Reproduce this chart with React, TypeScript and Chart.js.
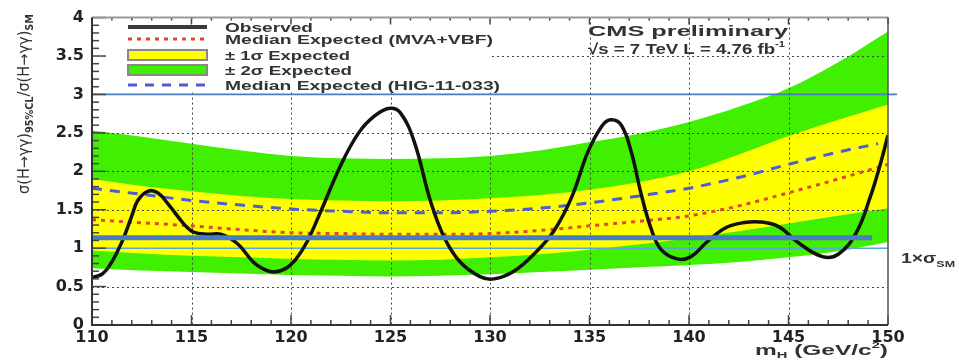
import React, { useEffect, useRef } from "react";
import { Chart, registerables } from "chart.js";

Chart.register(...registerables);

// ---------- data ----------
const massGrid = [110, 112.5, 115, 117.5, 120, 122.5, 125, 127.5, 130, 132.5, 135, 137.5, 140, 142.5, 145, 147.5, 150];
const twoSigmaUp = [2.53, 2.45, 2.36, 2.27, 2.2, 2.17, 2.16, 2.17, 2.2, 2.27, 2.38, 2.49, 2.64, 2.84, 3.08, 3.42, 3.82];
const twoSigmaDown = [0.74, 0.71, 0.69, 0.67, 0.65, 0.64, 0.63, 0.64, 0.66, 0.69, 0.72, 0.75, 0.78, 0.82, 0.88, 0.96, 1.08];
const oneSigmaUp = [1.9, 1.81, 1.74, 1.68, 1.64, 1.62, 1.61, 1.62, 1.65, 1.69, 1.76, 1.86, 2.0, 2.22, 2.46, 2.67, 2.87];
const oneSigmaDown = [0.97, 0.93, 0.9, 0.88, 0.86, 0.85, 0.84, 0.85, 0.88, 0.92, 0.98, 1.05, 1.13, 1.22, 1.32, 1.42, 1.52];
const medianMva = [1.37, 1.33, 1.29, 1.24, 1.2, 1.19, 1.18, 1.18, 1.19, 1.23, 1.29, 1.35, 1.42, 1.55, 1.72, 1.9, 2.09];

const medianHigMass = [110, 112.5, 115, 117.5, 120, 122.5, 125, 127.5, 130, 132.5, 135, 137.5, 140, 142.5, 145, 147.5, 149.5];
const medianHig = [1.78, 1.7, 1.62, 1.56, 1.51, 1.48, 1.46, 1.46, 1.48, 1.52, 1.59, 1.68, 1.78, 1.92, 2.09, 2.25, 2.36];

const obsMass = [110, 110.5, 110.9, 111.3, 111.6, 112.0, 112.3, 112.8, 113.3, 113.9, 114.6, 115.1, 115.8, 116.5, 117.3, 118.1, 118.6, 119.15, 119.7, 120.2, 120.8, 121.5, 122.5, 123.4, 124.2, 124.95, 125.5, 126.2, 127.0, 127.7, 128.5, 129.5, 130.2, 131.2, 132.2, 133.2, 134.1, 134.9, 135.6, 136.05, 136.6, 137.1, 137.6, 138.1, 138.6, 139.4, 140.1, 140.9, 141.8, 142.7, 143.6, 144.5, 145.5, 146.7, 147.5, 148.4, 149.1, 149.6, 150];
const obsValue = [0.62, 0.66, 0.78, 0.97, 1.14, 1.42, 1.62, 1.74, 1.72, 1.55, 1.32, 1.21, 1.18, 1.18, 1.06, 0.82, 0.73, 0.69, 0.73, 0.84, 1.08, 1.48, 2.08, 2.5, 2.72, 2.82, 2.76, 2.38, 1.62, 1.14, 0.82, 0.63, 0.6, 0.7, 0.92, 1.22, 1.66, 2.24, 2.58, 2.67, 2.6, 2.25, 1.7, 1.25, 0.98, 0.86, 0.89, 1.08, 1.26, 1.33, 1.34, 1.28, 1.07, 0.89, 0.92, 1.2, 1.66, 2.08, 2.47];

// reference lines drawn on the plot
const refLineTopMass = [110, 150.45];
const refLineTopValue = [3, 3];
const refLineThickMass = [110, 149.2];
const refLineThickValue = [1.135, 1.135];
const smLineMass = [110, 150];
const smLineValue = [1, 1];

const X_MIN = 110;
const X_MAX = 150;
const Y_MIN = 0;
const Y_MAX = 4;
const X_STEP = 5;
const Y_STEP = 0.5;

const legendLabels = [
  "Observed",
  "Median Expected (MVA+VBF)",
  "\u00b1 1\u03c3 Expected",
  "\u00b1 2\u03c3 Expected",
  "Median Expected (HIG-11-033)",
];

const COLORS = {
  green: "#40f000",
  yellow: "#ffff00",
  red: "#e3462a",
  blue: "#4d5fd0",
  black: "#111111",
  refBlue: "#4a7cc4",
  smBlue: "#5aa8d8",
};

const pts = (xs: number[], ys: number[]) => xs.map((x, i) => ({ x, y: ys[i] }));

type Run = { text: string; size: number; dy: number; bold?: boolean };

function drawRuns(ctx: CanvasRenderingContext2D, runs: Run[], x: number, y: number, width: number, family: string, color: string) {
  ctx.save();
  let total = 0;
  const widths = runs.map((r) => {
    ctx.font = `${r.bold ? "bold " : ""}${r.size}px ${family}`;
    const w = ctx.measureText(r.text).width;
    total += w;
    return w;
  });
  const s = width / total;
  ctx.translate(x, y);
  ctx.scale(s, 1);
  ctx.fillStyle = color;
  ctx.textBaseline = "alphabetic";
  ctx.textAlign = "left";
  let cx = 0;
  runs.forEach((r, i) => {
    ctx.font = `${r.bold ? "bold " : ""}${r.size}px ${family}`;
    ctx.fillText(r.text, cx, r.dy);
    cx += widths[i];
  });
  ctx.restore();
}

const YELLOW_INDEX = 6;

const decorPlugin = {
  id: "rootDecor",
  afterDatasetDraw(chart: any, args: any) {
    if (args.index !== YELLOW_INDEX) return;
    const { ctx, chartArea: a, scales } = chart;
    const xs = scales.x;
    const ys = scales.y;
    ctx.save();
    // dotted grid, drawn over the bands
    ctx.strokeStyle = "#444";
    ctx.lineWidth = 1;
    ctx.setLineDash([2, 3]);
    for (let m = X_MIN + X_STEP; m < X_MAX; m += X_STEP) {
      const px = Math.round(xs.getPixelForValue(m)) + 0.5;
      ctx.beginPath();
      ctx.moveTo(px, a.top);
      ctx.lineTo(px, a.bottom);
      ctx.stroke();
    }
    for (let v = Y_MIN + Y_STEP; v < Y_MAX; v += Y_STEP) {
      const py = Math.round(ys.getPixelForValue(v)) + 0.5;
      ctx.beginPath();
      ctx.moveTo(a.left, py);
      ctx.lineTo(a.right, py);
      ctx.stroke();
    }
    ctx.setLineDash([]);
    // legend box (white, covers grid)
    ctx.fillStyle = "#ffffff";
    ctx.fillRect(a.left + 1, a.top + 1, 490 - a.left, 72);
    ctx.restore();
  },
  afterDatasetsDraw(chart: any) {
    const { ctx, chartArea: a, scales } = chart;
    const xs = scales.x;
    const ys = scales.y;
    ctx.save();
    // inner ticks
    ctx.strokeStyle = "#444";
    ctx.lineWidth = 1.5;
    for (let m = X_MIN; m <= X_MAX; m += 1) {
      const px = xs.getPixelForValue(m);
      const major = (m - X_MIN) % X_STEP === 0;
      ctx.beginPath();
      ctx.moveTo(px, a.bottom);
      ctx.lineTo(px, a.bottom - (major ? 10 : 5));
      ctx.moveTo(px, a.top);
      ctx.lineTo(px, a.top + (major ? 7 : 3));
      ctx.stroke();
    }
    for (let k = 0; k <= 40; k++) {
      const v = Y_MIN + k * 0.1;
      const py = ys.getPixelForValue(v);
      const major = k % 5 === 0;
      ctx.beginPath();
      ctx.moveTo(a.left, py);
      ctx.lineTo(a.left + (major ? 14 : 7), py);
      ctx.stroke();
    }
    // frame
    ctx.strokeStyle = "#999";
    ctx.lineWidth = 2;
    ctx.beginPath();
    ctx.moveTo(a.left, a.top);
    ctx.lineTo(a.right, a.top);
    ctx.stroke();
    ctx.strokeStyle = "#555";
    ctx.lineWidth = 1.5;
    ctx.beginPath();
    ctx.moveTo(a.right, a.top);
    ctx.lineTo(a.right, a.bottom);
    ctx.stroke();
    ctx.strokeStyle = "#333";
    ctx.lineWidth = 2;
    ctx.beginPath();
    ctx.moveTo(a.left, a.top);
    ctx.lineTo(a.left, a.bottom);
    ctx.lineTo(a.right, a.bottom);
    ctx.stroke();

    // legend symbols
    const sx0 = 128;
    const sx1 = 207;
    const rows = [27, 39, 55, 70, 85];
    ctx.lineCap = "butt";
    ctx.strokeStyle = "#3a3a3a";
    ctx.lineWidth = 4;
    ctx.beginPath();
    ctx.moveTo(sx0, rows[0]);
    ctx.lineTo(sx1, rows[0]);
    ctx.stroke();
    ctx.strokeStyle = COLORS.red;
    ctx.lineWidth = 3;
    ctx.setLineDash([4, 5]);
    ctx.beginPath();
    ctx.moveTo(sx0, rows[1]);
    ctx.lineTo(sx1, rows[1]);
    ctx.stroke();
    ctx.setLineDash([]);
    ctx.fillStyle = COLORS.yellow;
    ctx.fillRect(sx0, rows[2] - 5, sx1 - sx0, 10);
    ctx.strokeStyle = "#888";
    ctx.lineWidth = 2;
    ctx.strokeRect(sx0, rows[2] - 5, sx1 - sx0, 10);
    ctx.fillStyle = COLORS.green;
    ctx.fillRect(sx0, rows[3] - 5, sx1 - sx0, 10);
    ctx.strokeRect(sx0, rows[3] - 5, sx1 - sx0, 10);
    ctx.strokeStyle = COLORS.blue;
    ctx.lineWidth = 3;
    ctx.setLineDash([9, 8]);
    ctx.beginPath();
    ctx.moveTo(sx0, rows[4]);
    ctx.lineTo(sx1, rows[4]);
    ctx.stroke();
    ctx.setLineDash([]);
    ctx.restore();

    // legend text
    const fam = '"Liberation Sans", Arial, sans-serif';
    const textWidths = [88, 268, 125, 127, 275];
    legendLabels.forEach((t, i) => {
      drawRuns(ctx, [{ text: t, size: 13, dy: 0, bold: true }], 225, rows[i] + 5, textWidths[i], fam, "#333");
    });

    // CMS label
    drawRuns(ctx, [{ text: "CMS preliminary", size: 15, dy: 0, bold: true }], 588, 36, 200, fam, "#333");
    drawRuns(
      ctx,
      [
        { text: "\u221as = 7 TeV L = 4.76 fb", size: 15, dy: 0, bold: true },
        { text: "-1", size: 9, dy: -7, bold: true },
      ],
      588,
      54,
      197,
      fam,
      "#333"
    );
  },
  afterDraw(chart: any) {
    const { ctx } = chart;
    const fam = '"Liberation Sans", Arial, sans-serif';
    // y title (rotated)
    ctx.save();
    ctx.translate(29, 194);
    ctx.rotate(-Math.PI / 2);
    drawRuns(
      ctx,
      [
        { text: "\u03c3(H\u2192\u03b3\u03b3)", size: 15, dy: 0 },
        { text: "95%CL", size: 10, dy: 4, bold: true },
        { text: "/\u03c3(H\u2192\u03b3\u03b3)", size: 15, dy: 0 },
        { text: "SM", size: 10, dy: 4, bold: true },
      ],
      0,
      0,
      180,
      '"DejaVu Sans", sans-serif',
      "#333"
    );
    ctx.restore();
    // x title
    drawRuns(
      ctx,
      [
        { text: "m", size: 15, dy: 0, bold: true },
        { text: "H", size: 9, dy: 3, bold: true },
        { text: " (GeV/c", size: 15, dy: 0, bold: true },
        { text: "2", size: 9, dy: -7, bold: true },
        { text: ")", size: 15, dy: 0, bold: true },
      ],
      755,
      355,
      133,
      fam,
      "#333"
    );
    // 1 x sigma_SM
    drawRuns(
      ctx,
      [
        { text: "1\u00d7\u03c3", size: 14, dy: 0, bold: true },
        { text: "SM", size: 9, dy: 4, bold: true },
      ],
      901,
      263,
      54,
      fam,
      "#333"
    );
  },
};

export default function App() {
  const canvasRef = useRef<HTMLCanvasElement | null>(null);

  useEffect(() => {
    if (!canvasRef.current) return;
    const chart = new Chart(canvasRef.current, {
      type: "line",
      data: {
        datasets: [
          {
            label: "Observed",
            data: pts(obsMass, obsValue),
            borderColor: COLORS.black,
            borderWidth: 3.5,
            pointRadius: 0,
            tension: 0.4,
            fill: false,
            order: 2,
          },
          {
            label: "Median Expected (MVA+VBF)",
            data: pts(massGrid, medianMva),
            borderColor: COLORS.red,
            borderWidth: 3,
            borderDash: [4, 5],
            pointRadius: 0,
            cubicInterpolationMode: "monotone",
            fill: false,
            order: 3,
          },
          {
            label: "Median Expected (HIG-11-033)",
            data: pts(medianHigMass, medianHig),
            borderColor: COLORS.blue,
            borderWidth: 3,
            borderDash: [10, 8],
            pointRadius: 0,
            cubicInterpolationMode: "monotone",
            fill: false,
            order: 4,
          },
          {
            label: "ref thick",
            data: pts(refLineThickMass, refLineThickValue),
            borderColor: COLORS.refBlue,
            borderWidth: 5,
            pointRadius: 0,
            fill: false,
            order: 0,
          },
          {
            label: "ref top",
            data: pts(refLineTopMass, refLineTopValue),
            borderColor: COLORS.refBlue,
            borderWidth: 1.8,
            pointRadius: 0,
            fill: false,
            clip: false,
            order: 0,
          },
          {
            label: "1 x sigma SM",
            data: pts(smLineMass, smLineValue),
            borderColor: COLORS.smBlue,
            borderWidth: 1.5,
            pointRadius: 0,
            fill: false,
            order: 5,
          },
          {
            label: "\u00b1 1\u03c3 Expected",
            data: pts(massGrid, oneSigmaUp),
            borderWidth: 0,
            borderColor: "rgba(0,0,0,0)",
            backgroundColor: COLORS.yellow,
            pointRadius: 0,
            cubicInterpolationMode: "monotone",
            fill: "+1",
            order: 8,
          },
          {
            label: "1 sigma down",
            data: pts(massGrid, oneSigmaDown),
            borderWidth: 0,
            borderColor: "rgba(0,0,0,0)",
            pointRadius: 0,
            cubicInterpolationMode: "monotone",
            fill: false,
            order: 9,
          },
          {
            label: "\u00b1 2\u03c3 Expected",
            data: pts(massGrid, twoSigmaUp),
            borderWidth: 0,
            borderColor: "rgba(0,0,0,0)",
            backgroundColor: COLORS.green,
            pointRadius: 0,
            cubicInterpolationMode: "monotone",
            fill: "+1",
            order: 10,
          },
          {
            label: "2 sigma down",
            data: pts(massGrid, twoSigmaDown),
            borderWidth: 0,
            borderColor: "rgba(0,0,0,0)",
            pointRadius: 0,
            cubicInterpolationMode: "monotone",
            fill: false,
            order: 11,
          },
        ],
      },
      options: {
        animation: false,
        responsive: true,
        maintainAspectRatio: false,
        layout: { padding: { left: 0, top: 15, right: 71, bottom: 0 } },
        plugins: {
          legend: { display: false },
          tooltip: { enabled: false },
        },
        scales: {
          x: {
            type: "linear",
            min: X_MIN,
            max: X_MAX,
            afterFit: (s: any) => {
              s.height = 35;
            },
            ticks: {
              stepSize: X_STEP,
              autoSkip: false,
              maxRotation: 0,
              padding: 3,
              color: "#222",
              font: { family: '"DejaVu Sans", sans-serif', size: 16, weight: "bold" },
            },
            grid: { display: false, drawTicks: false },
            border: { display: false },
          },
          y: {
            min: Y_MIN,
            max: Y_MAX,
            afterFit: (s: any) => {
              s.width = 92;
            },
            ticks: {
              stepSize: Y_STEP,
              padding: 8,
              color: "#222",
              callback: (v: any) => String(Number(v)),
              font: { family: '"DejaVu Sans", sans-serif', size: 16, weight: "bold" },
            },
            grid: { display: false, drawTicks: false },
            border: { display: false },
          },
        },
      },
      plugins: [decorPlugin],
    });
    return () => chart.destroy();
  }, []);

  return (
    <div style={{ position: "fixed", left: 0, top: 0, width: 959, height: 360, background: "#fff" }}>
      <canvas ref={canvasRef} />
    </div>
  );
}
